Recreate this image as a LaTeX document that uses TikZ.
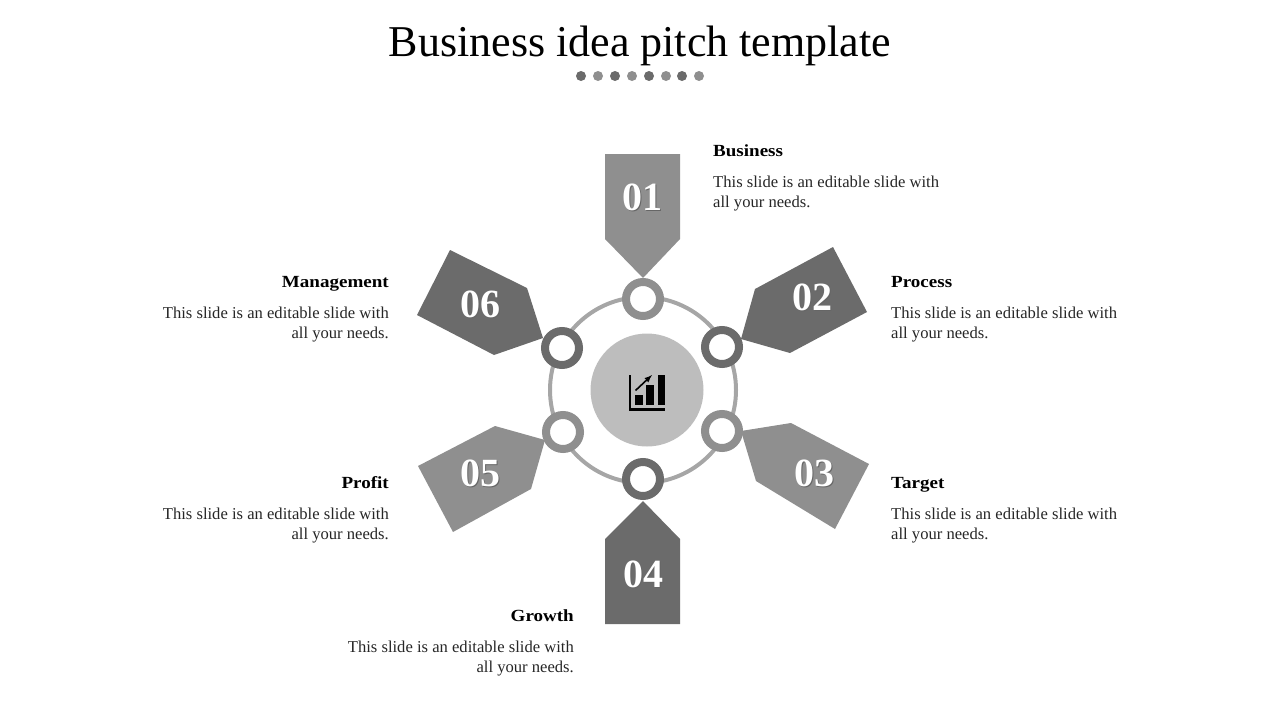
\documentclass[tikz,border=0pt]{standalone}
\usepackage{fontspec}
\setmainfont{Liberation Serif}
\newfontfamily\headfont[FakeStretch=1.12]{Liberation Serif}
\definecolor{darkfill}{HTML}{6B6B6B}
\definecolor{midfill}{HTML}{8F8F8F}
\definecolor{loopgray}{HTML}{A6A6A6}
\definecolor{hubfill}{HTML}{BDBDBD}
\definecolor{bodytext}{HTML}{262626}
\tikzset{
  hub/.style={circle, fill=hubfill, minimum size=113pt, inner sep=0pt},
  loopring/.style={circle, draw=loopgray, line width=4pt, minimum size=186pt, inner sep=0pt},
  ringnode/.style={circle, fill=white, line width=8pt, minimum size=34pt, inner sep=0pt},
  numlabel/.style={white, font=\fontsize{40}{40}\selectfont\bfseries},
  numshadow/.style={black!60, font=\fontsize{40}{40}\selectfont\bfseries},
  headl/.style={anchor=base west, font=\headfont\fontsize{17}{20}\selectfont\bfseries, inner sep=0pt},
  headr/.style={anchor=base east, font=\headfont\fontsize{17}{20}\selectfont\bfseries, inner sep=0pt},
  bodyl/.style={anchor=north west, align=left, text=bodytext, font=\fontsize{16.6}{20.2}\selectfont, inner sep=0pt},
  bodyr/.style={anchor=north east, align=right, text=bodytext, font=\fontsize{16.6}{20.2}\selectfont, inner sep=0pt}
}
\begin{document}
\begin{tikzpicture}[x=1pt, y=-1pt]
  \useasboundingbox (0,0) rectangle (1280,720);

  % Title
  \node[font=\fontsize{44}{44}\selectfont, inner sep=0pt, anchor=base] (title) at (640,56) {Business idea pitch template};

  % Dots under the title
  \fill[darkfill] (581,76) circle (5);
  \fill[midfill] (598,76) circle (5);
  \fill[darkfill] (615,76) circle (5);
  \fill[midfill] (632,76) circle (5);
  \fill[darkfill] (649,76) circle (5);
  \fill[midfill] (666,76) circle (5);
  \fill[darkfill] (682,76) circle (5);
  \fill[midfill] (699,76) circle (5);

  % Pentagons
  \fill[midfill] (605,154) -- (680,154) -- (680,239) -- (643,278) -- (605,239) -- cycle;
  \fill[darkfill] (833,247) -- (867,312) -- (790,353) -- (741,339) -- (755,289) -- cycle;
  \fill[midfill] (791,423) -- (869,464) -- (835,529) -- (756,481) -- (741,431) -- cycle;
  \fill[darkfill] (643,501) -- (680,539) -- (680,624) -- (605,624) -- (605,539) -- cycle;
  \fill[midfill] (495,426) -- (418,466) -- (453,532) -- (531,489) -- (545,440) -- cycle;
  \fill[darkfill] (450,250) -- (527,288) -- (543,338) -- (494,355) -- (417,315) -- cycle;

  % Centre and ring
  \node[loopring] (loop) at (643,390) {};
  \node[hub] (centre) at (647,390) {};

  % Small rings
  \node[ringnode, draw=midfill] (ring1) at (643,299) {};
  \node[ringnode, draw=darkfill] (ring2) at (722,347) {};
  \node[ringnode, draw=midfill] (ring3) at (722,431) {};
  \node[ringnode, draw=darkfill] (ring4) at (643,479) {};
  \node[ringnode, draw=midfill] (ring5) at (563,432) {};
  \node[ringnode, draw=darkfill] (ring6) at (562,348) {};

  % Chart icon
  \fill[black] (628.5,375) rectangle (631,411);
  \fill[black] (628.5,408) rectangle (665,411);
  \fill[black] (635,395) rectangle (642.5,405);
  \fill[black] (646,385) rectangle (654,405);
  \fill[black] (657.5,375) rectangle (665,405);
  \draw[black, line width=1.6pt, -latex] (635.5,390.5) -- (652,375);

  % Numbers
  \node[numshadow] (shadow1) at (643.5,198.5) {01};
  \node[numlabel] (num1) at (642,197) {01};
  \node[numshadow] (shadow2) at (813.5,298.5) {02};
  \node[numlabel] (num2) at (812,297) {02};
  \node[numshadow] (shadow3) at (815.5,474.5) {03};
  \node[numlabel] (num3) at (814,473) {03};
  \node[numshadow] (shadow4) at (644.5,575.5) {04};
  \node[numlabel] (num4) at (643,574) {04};
  \node[numshadow] (shadow5) at (481.5,474.5) {05};
  \node[numlabel] (num5) at (480,473) {05};
  \node[numshadow] (shadow6) at (481.5,305.5) {06};
  \node[numlabel] (num6) at (480,304) {06};

  % Labels
  \node[headl] (head1) at (713,156) {Business};
  \node[bodyl] (body1) at (713,176) {This slide is an editable slide with\\all your needs.};
  \node[headl] (head2) at (891,287) {Process};
  \node[bodyl] (body2) at (891,307) {This slide is an editable slide with\\all your needs.};
  \node[headl] (head3) at (891,488) {Target};
  \node[bodyl] (body3) at (891,508) {This slide is an editable slide with\\all your needs.};
  \node[headr] (head4) at (574,621) {Growth};
  \node[bodyr] (body4) at (574,641) {This slide is an editable slide with\\all your needs.};
  \node[headr] (head5) at (389,488) {Profit};
  \node[bodyr] (body5) at (389,508) {This slide is an editable slide with\\all your needs.};
  \node[headr] (head6) at (389,287) {Management};
  \node[bodyr] (body6) at (389,307) {This slide is an editable slide with\\all your needs.};
\end{tikzpicture}
\end{document}
